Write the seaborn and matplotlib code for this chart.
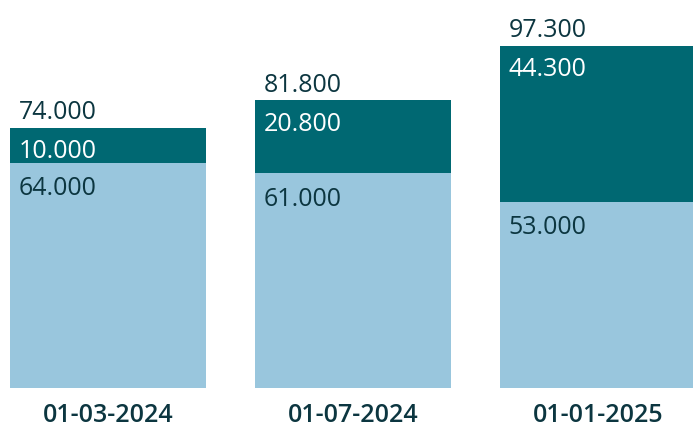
import pandas as pd
import seaborn as sns
import matplotlib.pyplot as plt

dates = ["01-03-2024", "01-07-2024", "01-01-2025"]
base_values = [64000, 61000, 53000]
extra_values = [10000, 20800, 44300]
total_labels = ["74.000", "81.800", "97.300"]
base_labels = ["64.000", "61.000", "53.000"]
extra_labels = ["10.000", "20.800", "44.300"]

DARK = "#006872"
LIGHT = "#99c6dd"
TEXT = "#0c3640"

sns.set_theme(style="white")
plt.rcParams['font.family'] = ['Open Sans', 'DejaVu Sans']

df = pd.DataFrame({"date": dates, "base": base_values, "extra": extra_values})
df["total"] = df["base"] + df["extra"]

fig = plt.figure(figsize=(6.93, 4.27), dpi=100)
ax = fig.add_axes([0, 38 / 427, 1, 389 / 427])

sns.barplot(data=df, x="date", y="total", color=DARK, saturation=1, width=0.8,
            linewidth=0, ax=ax)
sns.barplot(data=df, x="date", y="base", color=LIGHT, saturation=1, width=0.8,
            linewidth=0, ax=ax)

# value labels sit at the left edge of each segment
for i, row in df.iterrows():
    left = i - 0.4
    ax.annotate(total_labels[i], (left, row["total"]), xytext=(9, 16),
                textcoords="offset pixels", ha="left", va="center",
                fontsize=18, color=TEXT, fontweight="medium")
    ax.annotate(extra_labels[i], (left, row["total"]), xytext=(9, -23),
                textcoords="offset pixels", ha="left", va="center",
                fontsize=18, color="white", fontweight="medium")
    ax.annotate(base_labels[i], (left, row["base"]), xytext=(9, -25),
                textcoords="offset pixels", ha="left", va="center",
                fontsize=18, color=TEXT, fontweight="medium")

ax.set_xlim(-0.441, 2.389)
ax.set_ylim(0, 110600)
ax.set_yticks([])
ax.set_xlabel("")
ax.set_ylabel("")
ax.tick_params(axis="x", length=0, pad=10, labelsize=18, labelcolor=TEXT)
for lab in ax.get_xticklabels():
    lab.set_fontweight("semibold")
sns.despine(ax=ax, left=True, bottom=True, top=True, right=True)

fig.savefig("out.png", dpi=100)
